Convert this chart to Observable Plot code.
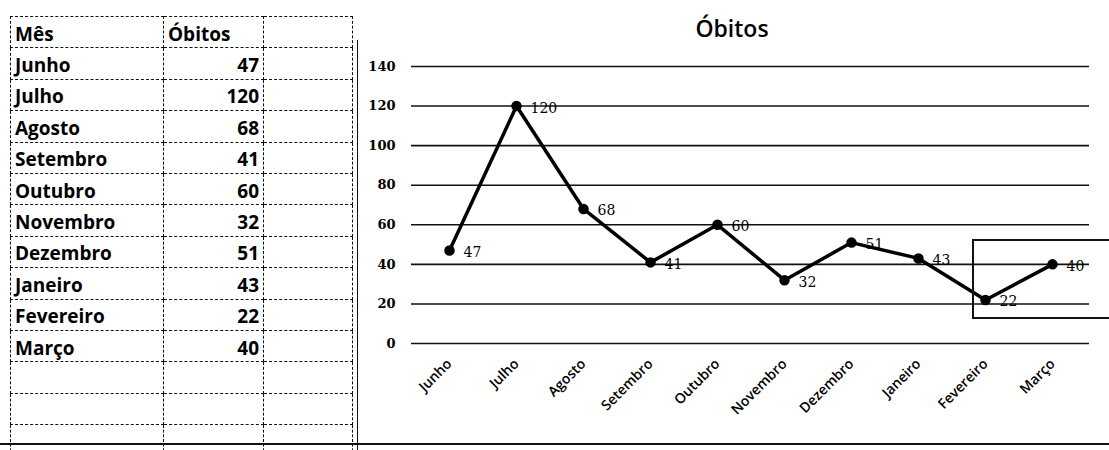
<!DOCTYPE html>
<html>
<head>
<meta charset="utf-8">
<script src="https://cdn.jsdelivr.net/npm/d3@7"></script>
<script src="https://cdn.jsdelivr.net/npm/@observablehq/plot@0.6"></script>
<style>
  html, body { margin: 0; padding: 0; background: #fff; }
  #page { position: relative; width: 1109px; height: 450px; overflow: hidden; background: #fff; }
  #sheet { position: absolute; left: 10px; top: 16px; border-collapse: collapse; font-family: "Open Sans", sans-serif; font-weight: 700; font-size: 19px; color: #000; }
  #sheet td { height: 31.4px; padding: 4px 4px 0 4px; box-sizing: border-box; border: 1.5px dashed #111; line-height: 1; vertical-align: middle; white-space: nowrap; }
  #sheet td.c1 { width: 153px; }
  #sheet td.c2 { width: 100px; text-align: right; }
  #sheet td.c2.h { text-align: left; }
  #sheet td.c3 { width: 89px; }
  #title { position: absolute; left: 632px; width: 200px; top: 12px; text-align: center; font-family: "Open Sans", sans-serif; font-weight: 600; font-size: 23px; color: #000; }
  #chart { position: absolute; left: 360px; top: 0; }
  #chartLeft { position: absolute; left: 357px; top: 40px; width: 0; height: 410px; border-left: 1.5px solid #111; }
  #chartBottom { position: absolute; left: 0; top: 443px; width: 1109px; height: 0; border-top: 2px solid #111; }
  #box { position: absolute; left: 972px; top: 239px; width: 160px; height: 76px; border: 2px solid #111; }
  #chart g[aria-label="y-axis tick label"] text { font-weight: bold; }
  #chart g[aria-label="x-axis tick label"] text { font-weight: 600; }
</style>
</head>
<body>
<div id="page">
  <table id="sheet"></table>
  <div id="chartLeft"></div>
  <div id="title">Óbitos</div>
  <div id="chart"></div>
  <div id="box"></div>
  <div id="chartBottom"></div>
</div>
<script>
// ---- data ----
const months = ["Junho", "Julho", "Agosto", "Setembro", "Outubro", "Novembro", "Dezembro", "Janeiro", "Fevereiro", "Março"];
const obitos = [47, 120, 68, 41, 60, 32, 51, 43, 22, 40];
const yTicks = [0, 20, 40, 60, 80, 100, 120, 140];
const headers = ["Mês", "Óbitos"];
const chartTitle = "Óbitos";

const data = months.map((m, i) => ({month: m, value: obitos[i]}));

// ---- spreadsheet table ----
const table = document.getElementById("sheet");
function addRow(a, b, isHeader) {
  const tr = document.createElement("tr");
  const t1 = document.createElement("td"); t1.className = "c1"; t1.textContent = a;
  const t2 = document.createElement("td"); t2.className = "c2" + (isHeader ? " h" : ""); t2.textContent = b;
  const t3 = document.createElement("td"); t3.className = "c3";
  tr.append(t1, t2, t3);
  table.append(tr);
}
addRow(headers[0], headers[1], true);
data.forEach(d => addRow(d.month, String(d.value), false));
for (let i = 0; i < 3; i++) addRow("", "", false);

document.getElementById("title").textContent = chartTitle;

// ---- chart ----
const chart = Plot.plot({
  width: 749,
  height: 450,
  marginLeft: 51,
  marginRight: 20,
  marginTop: 66,
  marginBottom: 107,
  style: {background: "transparent", color: "#000"},
  x: {type: "point", domain: months, padding: 0.5, label: null},
  y: {domain: [0, 140], label: null},
  marks: [
    Plot.ruleY(yTicks, {stroke: "#111", strokeWidth: 1.6}),
    Plot.axisY({ticks: yTicks, tickSize: 0, tickPadding: 16, fontSize: 13, fontFamily: "DejaVu Serif", label: null}),
    Plot.axisX({tickRotate: -45, tickSize: 0, tickPadding: 18, fontSize: 14, fontFamily: "Open Sans", label: null}),
    Plot.line(data, {x: "month", y: "value", stroke: "#000", strokeWidth: 3.5}),
    Plot.dot(data, {x: "month", y: "value", r: 4.5, fill: "#000", stroke: "#000"}),
    Plot.text(data, {x: "month", y: "value", text: d => String(d.value), dx: 14, dy: 2, textAnchor: "start", fontSize: 14, fontFamily: "DejaVu Serif", fill: "#000"})
  ]
});
document.getElementById("chart").append(chart);
</script>
</body>
</html>
